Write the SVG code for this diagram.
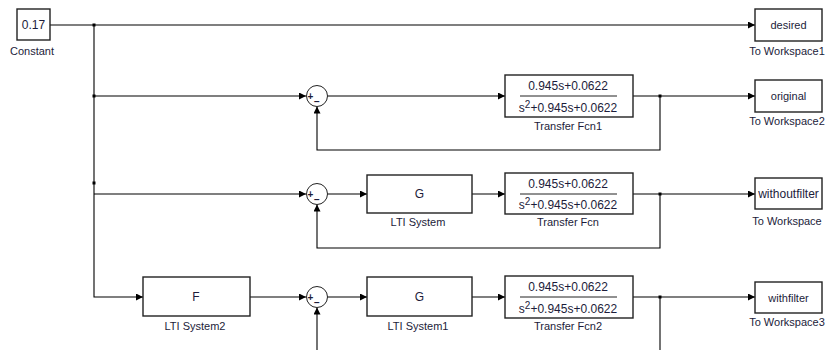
<svg xmlns="http://www.w3.org/2000/svg" width="825" height="350" viewBox="0 0 825 350">
<defs>
<marker id="arr" viewBox="0 0 10 10" refX="10" refY="5" markerWidth="9" markerHeight="7" markerUnits="userSpaceOnUse" orient="auto">
<path d="M0,0 L10,5 L0,10 Z" fill="#000"/>
</marker>
<style>
.blk{fill:#fff;stroke:#222;stroke-width:1.4}
.sum{fill:#fff;stroke:#222;stroke-width:1}
.w{fill:none;stroke:#000;stroke-width:1.1}
.a{marker-end:url(#arr)}
text{font-family:"Liberation Sans",Arial,sans-serif;fill:#1c1c3a}
.t{font-size:12px;text-anchor:middle}
.lb{font-size:11px;text-anchor:middle}
.sg{font-size:10px;text-anchor:middle;font-weight:bold}
.fr{stroke:#222;stroke-width:1}
</style>
</defs>
<g id="connectors">
<path class="w a" d="M50,25 H755"/>
<path class="w a" d="M94,25 V297 H143"/>
<path class="w a" d="M94,96 H306"/>
<path class="w a" d="M327.5,96 H505"/>
<path class="w a" d="M633,96 H755"/>
<path class="w a" d="M660,96 V150 H317 V106.5"/>
<path class="w a" d="M94,194 H306"/>
<path class="w a" d="M327.5,194 H367"/>
<path class="w a" d="M472,194 H505"/>
<path class="w a" d="M633,194 H755"/>
<path class="w a" d="M660,194 V248 H317 V204.5"/>
<path class="w a" d="M250,297 H306"/>
<path class="w a" d="M327.5,297 H367"/>
<path class="w a" d="M472,297 H505"/>
<path class="w a" d="M633,297 H755"/>
<path class="w" d="M660,297 V350"/>
<path class="w a" d="M317,350 V307.5"/>
<rect x="92.5" y="23.5" width="3" height="3" fill="#000"/>
<rect x="92.5" y="94.5" width="3" height="3" fill="#000"/>
<rect x="92.5" y="181.5" width="3" height="3" fill="#000"/>
<rect x="658.5" y="94.5" width="3" height="3" fill="#000"/>
<rect x="658.5" y="192.5" width="3" height="3" fill="#000"/>
<rect x="658.5" y="295.5" width="3" height="3" fill="#000"/>
</g>
<g id="constant">
<rect class="blk" x="17" y="9" width="33" height="31"/>
<text class="t" x="33.5" y="29">0.17</text>
<text class="lb" x="32" y="55">Constant</text>
</g>
<g id="ws1">
<rect class="blk" x="755" y="9" width="67" height="32"/>
<text class="lb" x="788.5" y="29">desired</text>
<text class="lb" x="787" y="55">To Workspace1</text>
</g>
<g id="ws2">
<rect class="blk" x="755" y="80" width="67" height="32"/>
<text class="lb" x="788.5" y="100">original</text>
<text class="lb" x="787" y="125">To Workspace2</text>
</g>
<g id="ws">
<rect class="blk" x="755" y="178" width="67" height="31"/>
<text class="t" x="788.5" y="197.5">withoutfilter</text>
<text class="lb" x="787" y="225">To Workspace</text>
</g>
<g id="ws3">
<rect class="blk" x="755" y="282" width="67" height="31"/>
<text class="lb" x="788.5" y="301.5">withfilter</text>
<text class="lb" x="787" y="326">To Workspace3</text>
</g>
<g id="sum1">
<circle class="sum" cx="317" cy="96" r="10.5"/>
<text class="sg" x="310.5" y="99.5">+</text>
<text class="sg" x="317" y="105">−</text>
</g>
<g id="sum2">
<circle class="sum" cx="317" cy="194" r="10.5"/>
<text class="sg" x="310.5" y="197.5">+</text>
<text class="sg" x="317" y="203">−</text>
</g>
<g id="sum3">
<circle class="sum" cx="317" cy="297" r="10.5"/>
<text class="sg" x="310.5" y="300.5">+</text>
<text class="sg" x="317" y="306">−</text>
</g>
<g id="tf1">
<rect class="blk" x="505" y="75" width="128" height="42"/>
<text class="t" x="568" y="90">0.945s+0.0622</text>
<line class="fr" x1="520" y1="96" x2="617" y2="96"/>
<text class="t" x="568" y="112">s<tspan dy="-4" font-size="10">2</tspan><tspan dy="4">+0.945s+0.0622</tspan></text>
<text class="lb" x="568" y="130">Transfer Fcn1</text>
</g>
<g id="tf">
<rect class="blk" x="505" y="173" width="128" height="41"/>
<text class="t" x="568" y="188">0.945s+0.0622</text>
<line class="fr" x1="520" y1="194" x2="617" y2="194"/>
<text class="t" x="568" y="209">s<tspan dy="-4" font-size="10">2</tspan><tspan dy="4">+0.945s+0.0622</tspan></text>
<text class="lb" x="568" y="226">Transfer Fcn</text>
</g>
<g id="tf2">
<rect class="blk" x="505" y="276" width="128" height="42"/>
<text class="t" x="568" y="291">0.945s+0.0622</text>
<line class="fr" x1="520" y1="297" x2="617" y2="297"/>
<text class="t" x="568" y="313">s<tspan dy="-4" font-size="10">2</tspan><tspan dy="4">+0.945s+0.0622</tspan></text>
<text class="lb" x="568" y="330">Transfer Fcn2</text>
</g>
<g id="lti">
<rect class="blk" x="367" y="175" width="105" height="38"/>
<text class="t" x="419.5" y="198">G</text>
<text class="lb" x="418" y="226">LTI System</text>
</g>
<g id="lti1">
<rect class="blk" x="367" y="277" width="105" height="39"/>
<text class="t" x="419.5" y="301">G</text>
<text class="lb" x="418" y="330">LTI System1</text>
</g>
<g id="lti2">
<rect class="blk" x="143" y="277" width="107" height="39"/>
<text class="t" x="196" y="301">F</text>
<text class="lb" x="195" y="330">LTI System2</text>
</g>
</svg>
